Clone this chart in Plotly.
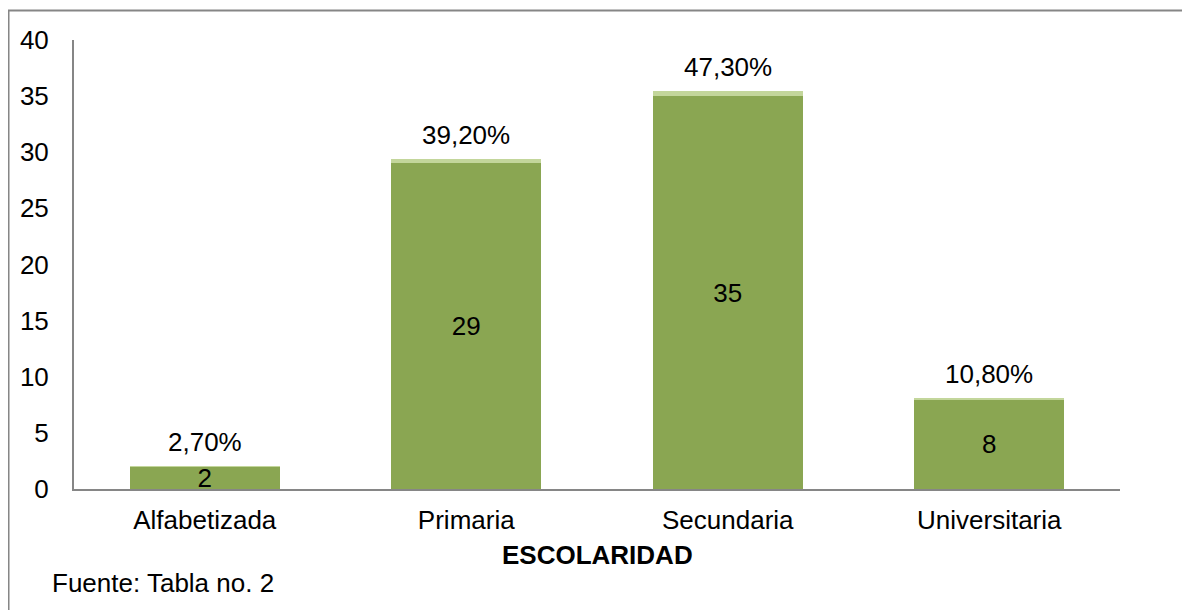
import plotly.graph_objects as go

categorias = ["Alfabetizada", "Primaria", "Secundaria", "Universitaria"]
cantidad = [2, 29, 35, 8]
porcentaje = [0.027, 0.392, 0.473, 0.108]
etiquetas_pct = ["2,70%", "39,20%", "47,30%", "10,80%"]
y_ticks = [0, 5, 10, 15, 20, 25, 30, 35, 40]

fuente = dict(family="Liberation Sans, Arial, sans-serif", size=26, color="black")
gris = "rgb(134,134,134)"

fig = go.Figure()

# conteo (barra verde)
fig.add_trace(go.Bar(
    x=categorias,
    y=cantidad,
    text=[str(v) for v in cantidad],
    textposition="inside",
    insidetextanchor="middle",
    textangle=0,
    constraintext="none",
    textfont=fuente,
    marker=dict(color="rgb(138,166,82)", line=dict(width=0)),
    hoverinfo="x+y",
    showlegend=False,
))

# porcentaje apilado (franja clara)
fig.add_trace(go.Bar(
    x=categorias,
    y=porcentaje,
    marker=dict(color="rgb(195,214,155)", line=dict(width=0)),
    hovertext=etiquetas_pct,
    hoverinfo="x+text",
    showlegend=False,
))

# etiquetas de porcentaje sobre cada barra
etiquetas = []
for cat, c, p, txt in zip(categorias, cantidad, porcentaje, etiquetas_pct):
    etiquetas.append(dict(
        x=cat, y=c + p, xref="x", yref="y",
        text=txt, showarrow=False,
        yanchor="middle", yshift=24,
        font=fuente,
    ))

fig.update_layout(
    barmode="stack",
    bargap=0.426,
    width=1190,
    height=610,
    margin=dict(l=66, r=78, t=32, b=129),
    paper_bgcolor="white",
    plot_bgcolor="white",
    font=fuente,
    xaxis=dict(
        showline=True,
        linecolor=gris,
        linewidth=2,
        showgrid=False,
        ticks="",
        ticklabelstandoff=7,
        tickfont=fuente,
    ),
    yaxis=dict(
        range=[0, 40],
        tickvals=y_ticks,
        showline=True,
        linecolor=gris,
        linewidth=2,
        showgrid=False,
        zeroline=False,
        ticks="",
        ticklabelstandoff=18,
        tickfont=fuente,
    ),
    shapes=[dict(
        type="rect", xref="paper", yref="paper",
        x0=-0.0626, x1=1.2, y0=-0.4, y1=1.0657,
        line=dict(color=gris, width=2),
        fillcolor="rgba(0,0,0,0)",
        layer="below",
    )],
    annotations=etiquetas + [
        dict(text="<b>ESCOLARIDAD</b>", xref="paper", yref="paper",
             x=0.5, y=-0.147, xanchor="center", yanchor="middle",
             showarrow=False, font=fuente),
        dict(text="Fuente: Tabla no. 2", xref="paper", yref="paper",
             x=-0.023, y=-0.209, xanchor="left", yanchor="middle",
             showarrow=False, font=fuente),
    ],
)

fig.write_html("out.html")
